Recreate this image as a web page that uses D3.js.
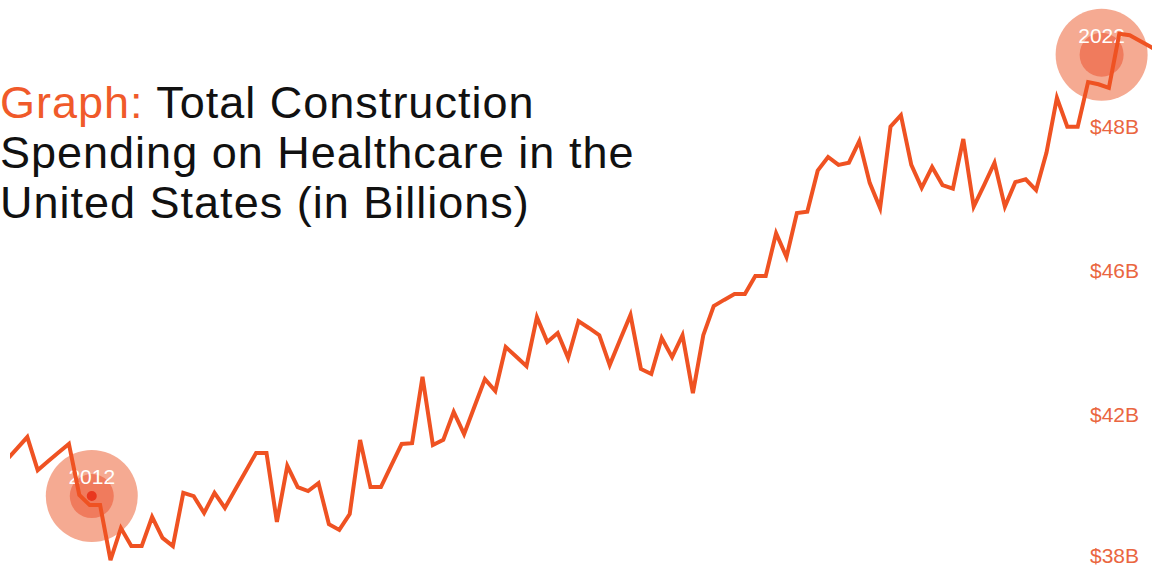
<!DOCTYPE html>
<html>
<head>
<meta charset="utf-8">
<script src="https://cdn.jsdelivr.net/npm/d3@7"></script>
<style>
  body { margin: 0; background: #fff; }
  svg { display: block; font-family: "Liberation Sans", Arial, sans-serif; }
</style>
</head>
<body>
<script>
// Monthly healthcare construction spending, billions of dollars
var spending = [
  40.72, 41.04, 41.36, 40.44, 40.69, 40.93, 41.17, 39.75, 39.47, 39.47,
  37.94, 38.83, 38.33, 38.33, 39.14, 38.56, 38.33, 39.81, 39.72, 39.25,
  39.81, 39.39, 39.90, 40.41, 40.92, 40.92, 39.00, 40.56, 39.97, 39.86,
  40.08, 38.94, 38.78, 39.22, 41.28, 39.97, 39.97, 40.57, 41.17, 41.19,
  43.03, 41.14, 41.28, 42.06, 41.44, 42.21, 42.97, 42.64, 43.86, 43.60,
  43.33, 44.69, 44.00, 44.25, 43.56, 44.58, 44.39, 44.19, 43.36, 44.06,
  44.75, 43.25, 43.11, 44.11, 43.58, 44.19, 42.58, 44.19, 45.00, 45.17,
  45.33, 45.33, 45.83, 45.83, 46.51, 46.18, 46.79, 46.81, 47.38, 47.57,
  47.46, 47.49, 47.79, 47.21, 46.86, 47.99, 48.15, 47.46, 47.14, 47.43,
  47.18, 47.13, 47.82, 46.88, 47.18, 47.49, 46.88, 47.22, 47.26, 47.11,
  47.63, 48.39, 47.99, 47.99, 48.61, 48.58, 48.53, 49.28, 49.26, 49.18,
  49.10, 49.01
];

// y axis labels (the picture spaces them evenly)
var tickValues = [38, 42, 46, 48];
var tickLabels = ["$38B", "$42B", "$46B", "$48B"];

// highlighted years: position along the series and level of the dot
var markerYears = ["2012", "2022"];
var markerIndex = [8.2, 105.3];
var markerValue = [39.72, 48.99];
var markerDot = [true, false];

var titleLines = [
  [["Graph: ", "#f05a2a"], ["Total Construction", "#111"]],
  [["Spending on Healthcare in the", "#111"]],
  [["United States (in Billions)", "#111"]]
];

var width = 1152,
    height = 567;

var svg = d3.select("body")
    .append("svg")
    .attr("width", width)
    .attr("height", height);

svg.append("rect")
    .attr("width", width)
    .attr("height", height)
    .attr("fill", "#fff");

// Scales
var x = d3.scaleLinear()
    .domain([0, spending.length - 1])
    .range([6.5, 6.5 + 10.4 * (spending.length - 1)]);

// polylinear so the four labels sit 144px apart
var y = d3.scaleLinear()
    .domain(tickValues)
    .range([558, 414, 270, 126]);

// Title
var title = svg.append("text")
    .attr("font-size", 45)
    .attr("letter-spacing", 1)
    .attr("x", 0)
    .attr("y", 118);

titleLines.forEach(function(line, i) {
  line.forEach(function(part, k) {
    var t = title.append("tspan")
        .attr("fill", part[1])
        .text(part[0]);
    if (k === 0) t.attr("x", 0).attr("dy", i === 0 ? 0 : 50);
  });
});

// Y labels on the right
var yAxis = d3.axisRight(y)
    .tickValues(tickValues)
    .tickFormat(function(d, i) { return tickLabels[i]; })
    .tickSize(0)
    .tickPadding(0);

var gy = svg.append("g")
    .attr("class", "y-axis")
    .attr("transform", "translate(1139,0)")
    .call(yAxis);

gy.select(".domain").remove();
gy.selectAll("text")
    .attr("text-anchor", "end")
    .attr("dy", function(d) { return d === 38 ? "0.2em" : "0.36em"; })
    .attr("font-size", 21)
    .attr("font-family", "Liberation Sans, Arial, sans-serif")
    .attr("fill", "#ea6640");

// Year highlight circles
var markers = svg.selectAll(".marker")
    .data(markerYears)
    .enter().append("g")
      .attr("class", "marker")
      .attr("transform", function(d, i) {
        return "translate(" + x(markerIndex[i]) + "," + y(markerValue[i]) + ")";
      });

markers.append("circle")
    .attr("r", 46)
    .attr("fill", "#f5aa92");

markers.append("circle")
    .attr("r", 22)
    .attr("fill", "#f07b5d");

// Line
svg.append("clipPath")
    .attr("id", "clip")
  .append("rect")
    .attr("x", 10)
    .attr("y", 0)
    .attr("width", width - 10)
    .attr("height", height);

var line = d3.line()
    .x(function(d, i) { return x(i); })
    .y(function(d) { return y(d); });

svg.append("path")
    .datum(spending)
    .attr("clip-path", "url(#clip)")
    .attr("fill", "none")
    .attr("stroke", "#ef5222")
    .attr("stroke-width", 4)
    .attr("stroke-linejoin", "miter")
    .attr("d", line);

markers.filter(function(d, i) { return markerDot[i]; })
    .append("circle")
    .attr("r", 5)
    .attr("fill", "#e9381f");

markers.append("text")
    .attr("text-anchor", "middle")
    .attr("y", -12)
    .attr("font-size", 21)
    .attr("fill", "#fff")
    .text(function(d) { return d; });
</script>
</body>
</html>
